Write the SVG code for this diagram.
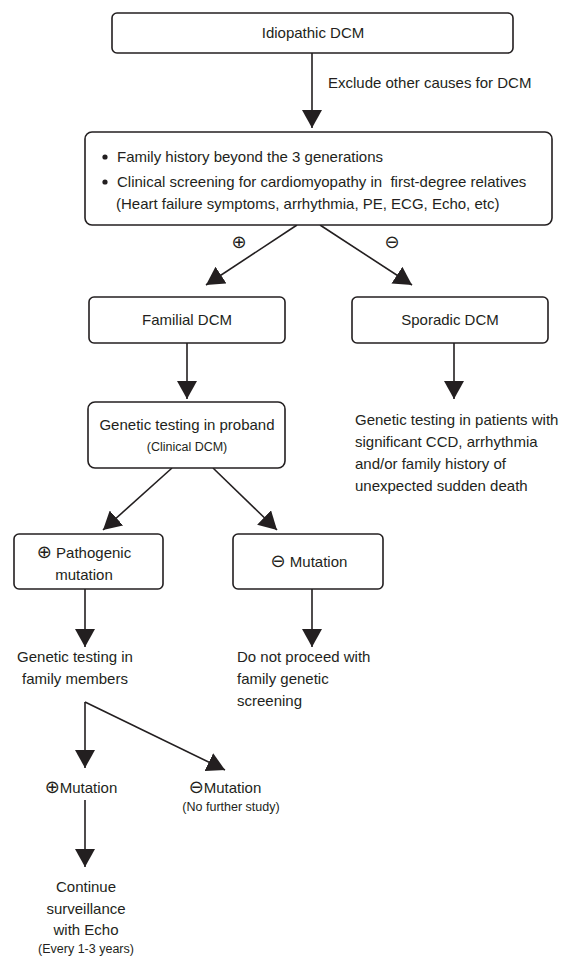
<svg xmlns="http://www.w3.org/2000/svg" width="568" height="957" viewBox="0 0 568 957">
<style>
.box{fill:#fff;stroke:#231f20;stroke-width:1.6}
.t{font-family:"Liberation Sans",Arial,sans-serif;font-size:15px;fill:#231f20}
.s{font-family:"Liberation Sans",Arial,sans-serif;font-size:12.5px;fill:#231f20}
.sym{font-family:"DejaVu Sans",sans-serif;font-size:18px;fill:#231f20}
.c{text-anchor:middle}
.ln{fill:none;stroke:#231f20;stroke-width:1.6}
</style>
<defs>
<marker id="ah" viewBox="0 0 18 20" refX="18" refY="10" markerWidth="18" markerHeight="20" markerUnits="userSpaceOnUse" orient="auto">
<path d="M0,0 L18,10 L0,20 z" fill="#231f20"/>
</marker>
</defs>
<rect width="568" height="957" fill="#fff"/>
<g id="connectors">
<line class="ln" x1="312" y1="53" x2="312" y2="128" marker-end="url(#ah)"/>
<line class="ln" x1="297" y1="225" x2="206" y2="285" marker-end="url(#ah)"/>
<line class="ln" x1="320" y1="225" x2="412" y2="285" marker-end="url(#ah)"/>
<line class="ln" x1="187" y1="343" x2="187" y2="399" marker-end="url(#ah)"/>
<line class="ln" x1="454" y1="343" x2="454" y2="399" marker-end="url(#ah)"/>
<line class="ln" x1="172" y1="468" x2="103" y2="530" marker-end="url(#ah)"/>
<line class="ln" x1="213" y1="468" x2="277" y2="530" marker-end="url(#ah)"/>
<line class="ln" x1="85" y1="589" x2="85" y2="647" marker-end="url(#ah)"/>
<line class="ln" x1="312" y1="589" x2="312" y2="647" marker-end="url(#ah)"/>
<line class="ln" x1="85" y1="702" x2="85" y2="768" marker-end="url(#ah)"/>
<line class="ln" x1="85" y1="702" x2="225" y2="770" marker-end="url(#ah)"/>
<line class="ln" x1="85" y1="800" x2="85" y2="867" marker-end="url(#ah)"/>
<text class="t" x="328" y="88">Exclude other causes for DCM</text>
<text class="sym c" x="239" y="248">⊕</text>
<text class="sym c" x="392" y="248">⊖</text>
</g>
<g id="idiopathic">
<rect class="box" x="112" y="13" width="401" height="40" rx="5"/>
<text class="t c" x="313" y="38">Idiopathic DCM</text>
</g>
<g id="screening">
<rect class="box" x="85" y="132" width="467" height="93" rx="7"/>
<circle cx="105" cy="157" r="2.6" fill="#231f20"/>
<circle cx="105" cy="182" r="2.6" fill="#231f20"/>
<text class="t" x="117" y="162">Family history beyond the 3 generations</text>
<text class="t" x="117" y="187" xml:space="preserve">Clinical screening for cardiomyopathy in  first-degree relatives</text>
<text class="t" x="116" y="209">(Heart failure symptoms, arrhythmia, PE, ECG, Echo, etc)</text>
</g>
<g id="familial">
<rect class="box" x="89" y="297" width="196" height="46" rx="5"/>
<text class="t c" x="187" y="325">Familial DCM</text>
</g>
<g id="sporadic">
<rect class="box" x="352" y="297" width="196" height="46" rx="5"/>
<text class="t c" x="450" y="325">Sporadic DCM</text>
</g>
<g id="sporadic-testing">
<text class="t" x="355" y="425">Genetic testing in patients with</text>
<text class="t" x="355" y="447">significant CCD, arrhythmia</text>
<text class="t" x="355" y="469">and/or family history of</text>
<text class="t" x="355" y="491">unexpected sudden death</text>
</g>
<g id="proband">
<rect class="box" x="88" y="402" width="197" height="66" rx="7"/>
<text class="t c" x="187" y="430">Genetic testing in proband</text>
<text class="s c" x="187" y="451">(Clinical DCM)</text>
</g>
<g id="pathogenic">
<rect class="box" x="14" y="534" width="149" height="55" rx="5"/>
<text class="t c" x="84" y="558"><tspan class="sym" font-size="17">⊕</tspan> Pathogenic</text>
<text class="t c" x="84" y="580">mutation</text>
</g>
<g id="neg-mutation">
<rect class="box" x="233" y="534" width="150" height="55" rx="5"/>
<text class="t c" x="309" y="567"><tspan class="sym" font-size="17">⊖</tspan> Mutation</text>
</g>
<g id="family-testing">
<text class="t c" x="75" y="662">Genetic testing in</text>
<text class="t c" x="75" y="684">family members</text>
</g>
<g id="no-proceed">
<text class="t" x="237" y="662">Do not proceed with</text>
<text class="t" x="237" y="684">family genetic</text>
<text class="t" x="237" y="706">screening</text>
</g>
<g id="pos-family">
<text class="t c" x="81" y="793"><tspan class="sym" font-size="17">⊕</tspan>Mutation</text>
</g>
<g id="neg-family">
<text class="t c" x="225" y="793"><tspan class="sym" font-size="17">⊖</tspan>Mutation</text>
<text class="s c" x="231" y="811">(No further study)</text>
</g>
<g id="surveillance">
<text class="t c" x="86" y="892">Continue</text>
<text class="t c" x="86" y="914">surveillance</text>
<text class="t c" x="86" y="935">with Echo</text>
<text class="s c" x="86" y="953">(Every 1-3 years)</text>
</g>
</svg>
